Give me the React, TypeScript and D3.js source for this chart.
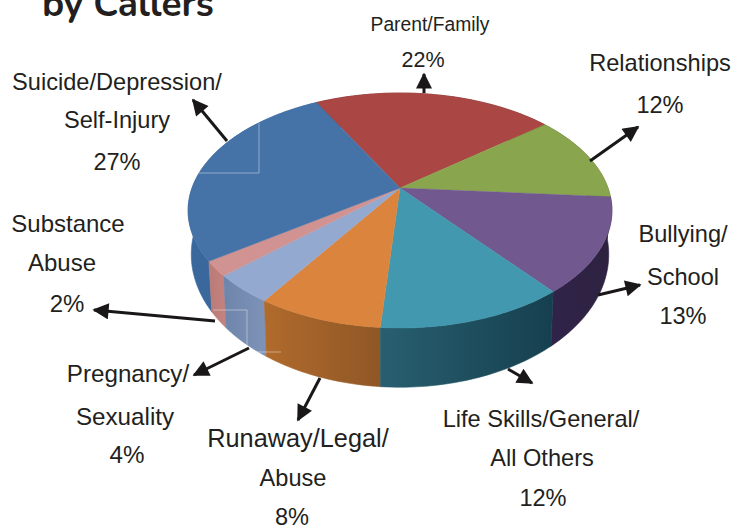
import React from "react";
import * as d3 from "d3";

const categories = [
  "Parent/Family",
  "Relationships",
  "Bullying/School",
  "Life Skills/General/All Others",
  "Runaway/Legal/Abuse",
  "Pregnancy/Sexuality",
  "Substance Abuse",
  "Suicide/Depression/Self-Injury",
];
const values = [22, 12, 13, 12, 8, 4, 2, 27];
const topColors = ["#AA4643", "#89A54E", "#71588F", "#4198AF", "#DB843D", "#93A9CF", "#D19392", "#4572A7"];
const sideStart = ["#7a2f2d", "#5f7436", "#2e2240", "#16404f", "#8f5726", "#7f93b8", "#c58380", "#3a689c"];
const sideEnd = ["#7a2f2d", "#5f7436", "#30234a", "#285f70", "#b06a2c", "#6f86ac", "#bb7c78", "#3a689c"];

const labelLines = [
  { lines: ["Parent/Family"], xs: [430], ys: [31], size: 19.3 },
  { lines: ["22%"], xs: [423], ys: [67], size: 21.5 },
  { lines: ["Relationships", "12%"], xs: [660, 660], ys: [71, 113], size: 23.6 },
  { lines: ["Bullying/", "School", "13%"], xs: [683, 683, 683], ys: [242, 285, 324], size: 23.6 },
  { lines: ["Life Skills/General/", "All Others", "12%"], xs: [541, 542, 543], ys: [427, 466, 506], size: 23.6 },
  { lines: ["Runaway/Legal/"], xs: [298], ys: [447], size: 25.3 },
  { lines: ["Abuse", "8%"], xs: [293, 292], ys: [486, 525], size: 23.6 },
  { lines: ["Pregnancy/", "Sexuality", "4%"], xs: [128, 125, 127], ys: [382, 425, 463], size: 24.2 },
  { lines: ["Substance", "Abuse", "2%"], xs: [68, 62, 67], ys: [232, 271, 312], size: 24 },
  { lines: ["Suicide/Depression/", "Self-Injury", "27%"], xs: [117, 117, 117], ys: [90, 128, 170], size: 23.6 },
];

const arrows = [
  [424, 93, 424, 74],
  [590, 161, 638, 127],
  [598, 295, 640, 285],
  [508, 369, 532, 383],
  [320, 378, 298, 420],
  [249, 348, 194, 375],
  [215, 321, 94, 310],
  [227, 141, 193, 100],
];

const artifacts = [
  "M259,123 V173 H199",
  "M213,310 H247 V352 H281",
];

const cx = 400;
const cy = 188;
const A = 208;
const B = 113.2;
const P = -0.1915;
const depthX = 0.985;
const depthY = 1.13;
const bottomCy = 229;

const project = (a: number): [number, number] => {
  const u = Math.sin(a);
  const v = -Math.cos(a);
  const w = 1 + P * v;
  return [(A * u) / w, (B * v) / w];
};
const topPoint = (a: number): [number, number] => {
  const [x, y] = project(a);
  return [cx + x, cy + y];
};
const bottomPoint = (a: number): [number, number] => {
  const [x, y] = project(a);
  return [cx + depthX * x, bottomCy + depthY * y];
};
const sample = (a0: number, a1: number) => {
  const n = Math.max(2, Math.ceil(Math.abs(a1 - a0) / 0.02));
  return d3.range(n + 1).map((i) => a0 + ((a1 - a0) * i) / n);
};

const pie = d3
  .pie<number>()
  .sort(null)
  .startAngle((-28 * Math.PI) / 180)
  .endAngle((332 * Math.PI) / 180);
const arcsData = pie(values);
const line = d3.line();

export default function App() {
  const sideOrder = arcsData
    .map((d, i) => ({ d, i }))
    .sort((a, b) => Math.cos((b.d.startAngle + b.d.endAngle) / 2) - Math.cos((a.d.startAngle + a.d.endAngle) / 2));
  return (
    <svg
      width={733}
      height={529}
      viewBox="0 0 733 529"
      style={{ position: "absolute", left: 0, top: 0, background: "#fff" }}
    >
      <defs>
        <marker id="head" viewBox="0 0 10 10" refX="9" refY="5" markerWidth="6.5" markerHeight="5.4" orient="auto" markerUnits="strokeWidth">
          <path d="M0,0 L10,5 L0,10 Z" fill="#1a1718" />
        </marker>
        {arcsData.map((d, i) => {
          const a = bottomPoint(d.startAngle);
          const b = bottomPoint(d.endAngle);
          return (
            <linearGradient key={i} id={`side${i}`} gradientUnits="userSpaceOnUse" x1={a[0]} y1={0} x2={b[0] === a[0] ? a[0] + 1 : b[0]} y2={0}>
              <stop offset="0" stopColor={sideStart[i]} />
              <stop offset="1" stopColor={sideEnd[i]} />
            </linearGradient>
          );
        })}
      </defs>
      <text x={42} y={16} fontFamily="Nunito, Lato, 'Open Sans', sans-serif" fontWeight={700} fontSize={37} fill="#231f20">
        by Callers
      </text>
      {sideOrder.map(({ d, i }) => {
        const as = sample(d.startAngle, d.endAngle);
        const pts = [...as.map(topPoint), ...as.slice().reverse().map(bottomPoint)];
        return <path key={`s${i}`} d={(line(pts) ?? "") + "Z"} fill={`url(#side${i})`} stroke={`url(#side${i})`} strokeWidth={0.6} />;
      })}
      {arcsData.map((d, i) => {
        const pts: [number, number][] = [[cx, cy], ...sample(d.startAngle, d.endAngle).map(topPoint)];
        return <path key={categories[i]} d={(line(pts) ?? "") + "Z"} fill={topColors[i]} stroke={topColors[i]} strokeWidth={0.4} />;
      })}
      {artifacts.map((p, i) => (
        <path key={i} d={p} fill="none" stroke="#fff" strokeOpacity={0.4} strokeWidth={1} />
      ))}
      {arrows.map(([x1, y1, x2, y2], i) => (
        <line key={i} x1={x1} y1={y1} x2={x2} y2={y2} stroke="#1a1718" strokeWidth={3} markerEnd="url(#head)" />
      ))}
      {labelLines.map((l, i) =>
        l.lines.map((t, j) => (
          <text key={`${i}-${j}`} x={l.xs[j]} y={l.ys[j]} textAnchor="middle" fontFamily="'Liberation Sans', Arial, sans-serif" fontSize={l.size} fill="#231f20">
            {t}
          </text>
        ))
      )}
    </svg>
  );
}
